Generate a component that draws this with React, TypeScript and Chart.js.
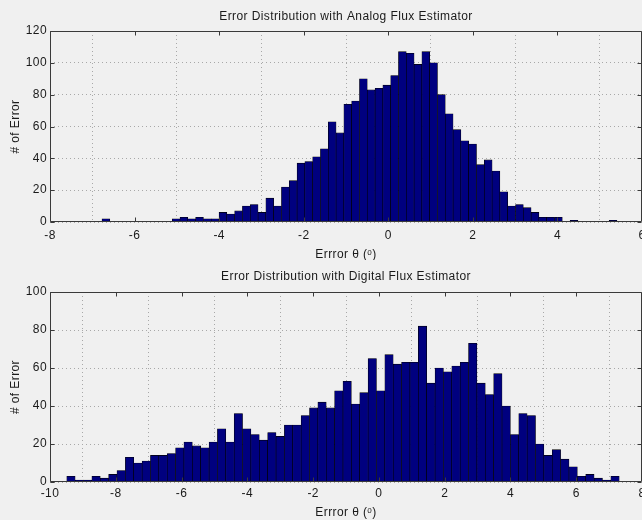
import { useEffect, useRef } from "react";
import { Chart, registerables } from "chart.js";

Chart.register(...registerables);

// ---- Data ----
const analogTitle = "Error Distribution with Analog Flux Estimator";
const digitalTitle = "Error Distribution with Digital Flux Estimator";
const xAxisTitle = "Errror θ (ᵒ)";
const yAxisTitle = "# of Error";

const analogBinCenters = [
  -6.678, -6.493, -6.309, -6.124, -5.94, -5.755, -5.571, -5.386, -5.202, -5.017,
  -4.833, -4.648, -4.464, -4.279, -4.095, -3.91, -3.726, -3.541, -3.357, -3.172,
  -2.988, -2.803, -2.619, -2.434, -2.25, -2.065, -1.881, -1.696, -1.512, -1.327,
  -1.143, -0.958, -0.774, -0.589, -0.405, -0.22, -0.036, 0.149, 0.333, 0.518,
  0.702, 0.887, 1.071, 1.256, 1.44, 1.625, 1.809, 1.994, 2.178, 2.363,
  2.547, 2.732, 2.916, 3.101, 3.285, 3.47, 3.654, 3.839, 4.023, 4.208,
  4.392, 4.577, 4.761, 4.946, 5.13, 5.315,
];
const analogCounts = [
  2, 0, 0, 0, 0, 0, 0, 0, 0, 2,
  3, 2, 3, 2, 2, 6, 5, 7, 10, 11,
  6, 15, 10, 22, 26, 37, 38, 41, 46, 63,
  56, 74, 76, 90, 83, 84, 86, 92, 107, 106,
  99, 107, 100, 80, 68, 58, 51, 49, 36, 39,
  32, 19, 10, 11, 9, 6, 3, 3, 3, 0,
  1, 0, 0, 0, 0, 1,
];

const digitalBinCenters = [
  -9.363, -9.108, -8.854, -8.599, -8.345, -8.09, -7.836, -7.581, -7.327, -7.072,
  -6.818, -6.563, -6.309, -6.054, -5.8, -5.545, -5.291, -5.036, -4.782, -4.527,
  -4.273, -4.018, -3.764, -3.509, -3.255, -3.0, -2.746, -2.491, -2.237, -1.982,
  -1.728, -1.473, -1.219, -0.964, -0.71, -0.455, -0.201, 0.054, 0.308, 0.563,
  0.817, 1.072, 1.326, 1.581, 1.835, 2.09, 2.344, 2.599, 2.853, 3.108,
  3.362, 3.617, 3.871, 4.126, 4.38, 4.635, 4.889, 5.144, 5.398, 5.653,
  5.907, 6.162, 6.416, 6.671, 6.925, 7.18,
];
const digitalCounts = [
  3, 1, 1, 3, 2, 4, 6, 13, 10, 11,
  14, 14, 15, 18, 21, 19, 18, 21, 28, 21,
  36, 28, 25, 22, 26, 24, 30, 30, 35, 39,
  42, 39, 48, 53, 41, 47, 65, 48, 67, 62,
  63, 63, 82, 52, 60, 58, 61, 63, 73, 52,
  46, 57, 40, 25, 36, 35, 20, 14, 17, 12,
  8, 3, 4, 2, 1, 3,
];

const analogXTicks = [-8, -6, -4, -2, 0, 2, 4, 6];
const analogYTicks = [0, 20, 40, 60, 80, 100, 120];
const digitalXTicks = [-10, -8, -6, -4, -2, 0, 2, 4, 6, 8];
const digitalYTicks = [0, 20, 40, 60, 80, 100];

// ---- Styles ----
const FONT_FAMILY = "'Liberation Sans', Arial, Helvetica, sans-serif";
const FONT_SIZE = 12;
const LETTER_SPACING = "0.4px";
const TEXT_COLOR = "#1a1a1a";
const BG = "#f0f0f0";
const BAR_FILL = "#00007f";
const GRID_COLOR = "#a8a8a8";

const spacingPlugin = {
  id: "letterSpacing",
  beforeLayout(chart: any) {
    (chart.ctx as any).letterSpacing = LETTER_SPACING;
  },
  beforeDraw(chart: any) {
    (chart.ctx as any).letterSpacing = LETTER_SPACING;
  },
};

const framePlugin = {
  id: "matlabFrame",
  afterDraw(chart: any) {
    const { ctx, chartArea: a, scales } = chart;
    const l = Math.round(a.left) + 0.5;
    const t = Math.round(a.top) + 0.5;
    const r = Math.round(a.right) - 0.5;
    const b = Math.round(a.bottom) - 0.5;
    ctx.save();
    ctx.strokeStyle = "#3a3a3a";
    ctx.lineWidth = 1;
    ctx.beginPath();
    ctx.rect(l, t, r - l, b - t);
    const len = 4;
    for (const tk of scales.x.ticks) {
      const px = Math.round(scales.x.getPixelForValue(tk.value)) + 0.5;
      ctx.moveTo(px, b);
      ctx.lineTo(px, b - len);
      ctx.moveTo(px, t);
      ctx.lineTo(px, t + len);
    }
    for (const tk of scales.y.ticks) {
      const py = Math.round(scales.y.getPixelForValue(tk.value)) + 0.5;
      ctx.moveTo(l, py);
      ctx.lineTo(l + len, py);
      ctx.moveTo(r, py);
      ctx.lineTo(r - len, py);
    }
    ctx.stroke();
    ctx.restore();
  },
};

function makeConfig(
  title: string,
  centers: number[],
  counts: number[],
  xTicks: number[],
  yTicks: number[],
  titlePad: { top: number; bottom: number },
  tickPad: number,
  xTitlePadBottom: number
): any {
  const font = { family: FONT_FAMILY, size: FONT_SIZE, weight: "normal" as const };
  return {
    type: "bar",
    data: {
      datasets: [
        {
          data: centers.map((c, i) => ({ x: c, y: counts[i] })),
          backgroundColor: BAR_FILL,
          borderColor: "#000000",
          borderWidth: 0.6,
          barPercentage: 1,
          categoryPercentage: 1,
        },
      ],
    },
    options: {
      animation: false,
      responsive: false,
      maintainAspectRatio: false,
      events: [],
      layout: { padding: { left: 0, right: 18, top: 0, bottom: 0 } },
      plugins: {
        legend: { display: false },
        tooltip: { enabled: false },
        title: {
          display: true,
          text: title,
          fullSize: false,
          color: TEXT_COLOR,
          font,
          padding: titlePad,
        },
      },
      scales: {
        x: {
          type: "linear",
          min: xTicks[0],
          max: xTicks[xTicks.length - 1],
          offset: false,
          afterBuildTicks: (s: any) => {
            s.ticks = xTicks.map((v) => ({ value: v }));
          },
          afterFit: (s: any) => {
            s.height = 38;
          },
          grid: { color: GRID_COLOR, drawTicks: false, lineWidth: 1 },
          border: { display: false, dash: [1, 3] },
          ticks: {
            color: TEXT_COLOR,
            font,
            padding: tickPad,
            maxRotation: 0,
            autoSkip: false,
          },
          title: {
            display: true,
            text: xAxisTitle,
            color: TEXT_COLOR,
            font,
            padding: { top: 0, bottom: xTitlePadBottom },
          },
        },
        y: {
          type: "linear",
          min: yTicks[0],
          max: yTicks[yTicks.length - 1],
          afterBuildTicks: (s: any) => {
            s.ticks = yTicks.map((v) => ({ value: v }));
          },
          afterFit: (s: any) => {
            s.width = 50;
          },
          grid: { color: GRID_COLOR, drawTicks: false, lineWidth: 1 },
          border: { display: false, dash: [1, 3] },
          ticks: { color: TEXT_COLOR, font, padding: 3, autoSkip: false },
          title: {
            display: true,
            text: yAxisTitle,
            color: TEXT_COLOR,
            font,
            padding: { top: 8, bottom: 0 },
          },
        },
      },
    },
    plugins: [spacingPlugin, framePlugin],
  };
}

export default function App() {
  const topRef = useRef<HTMLCanvasElement | null>(null);
  const botRef = useRef<HTMLCanvasElement | null>(null);

  useEffect(() => {
    const c1 = new Chart(
      topRef.current as HTMLCanvasElement,
      makeConfig(
        analogTitle,
        analogBinCenters,
        analogCounts,
        analogXTicks,
        analogYTicks,
        { top: 9.8, bottom: 6.8 },
        6,
        -1.5
      )
    );
    const c2 = new Chart(
      botRef.current as HTMLCanvasElement,
      makeConfig(
        digitalTitle,
        digitalBinCenters,
        digitalCounts,
        digitalXTicks,
        digitalYTicks,
        { top: 9.8, bottom: 7.8 },
        4,
        0
      )
    );
    return () => {
      c1.destroy();
      c2.destroy();
    };
  }, []);

  return (
    <div
      style={{
        position: "absolute",
        left: 0,
        top: 0,
        width: 642,
        height: 520,
        overflow: "hidden",
        background: BG,
      }}
    >
      <canvas
        ref={topRef}
        width={660}
        height={260}
        style={{ display: "block", width: 660, height: 260 }}
      />
      <canvas
        ref={botRef}
        width={660}
        height={260}
        style={{ display: "block", width: 660, height: 260 }}
      />
    </div>
  );
}
